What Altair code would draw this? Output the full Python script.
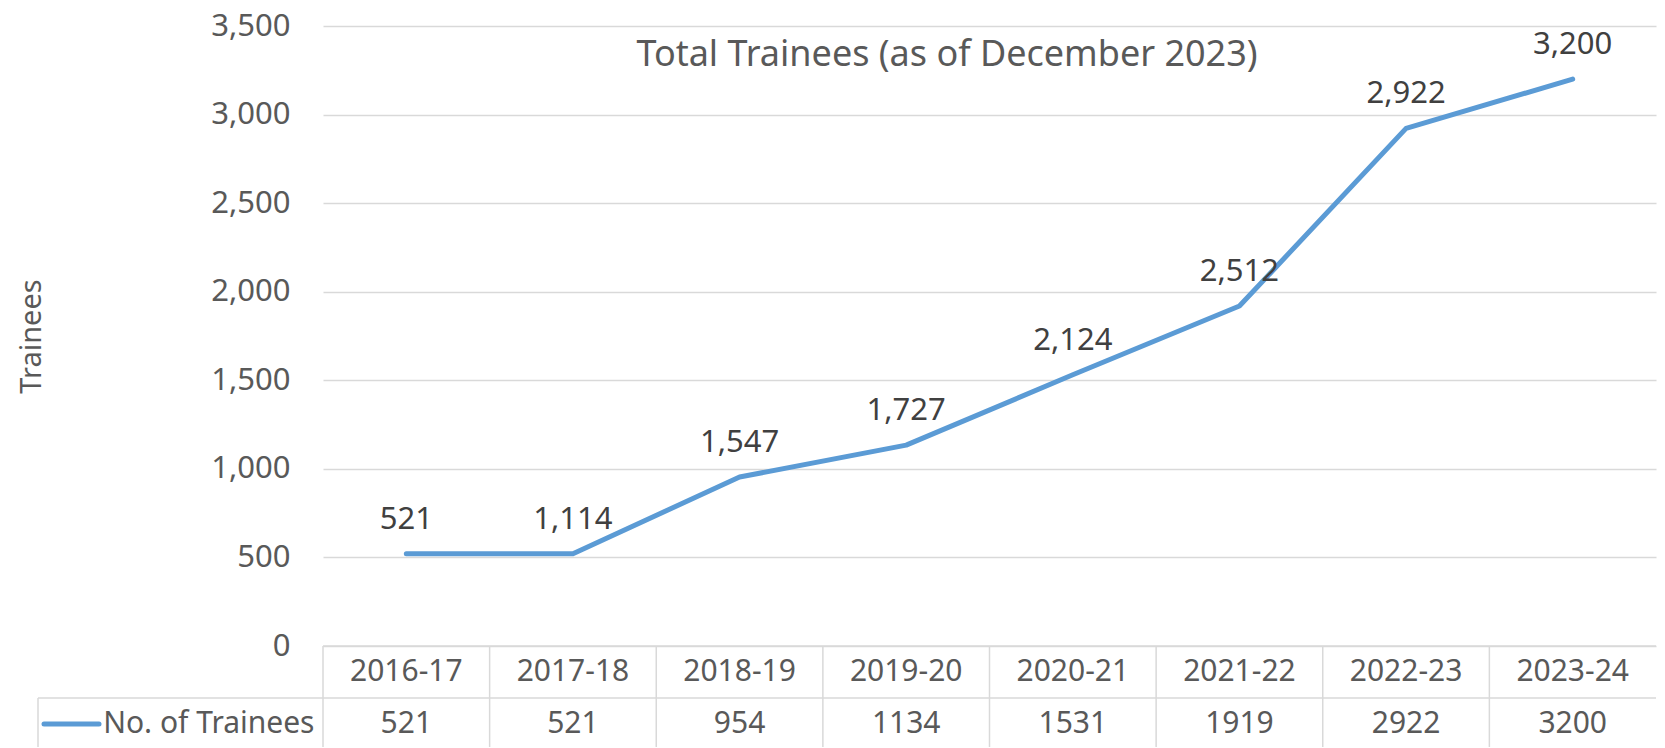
import altair as alt
import pandas as pd

# ---- data ----
years = ["2016-17", "2017-18", "2018-19", "2019-20", "2020-21", "2021-22", "2022-23", "2023-24"]
trainees = [521, 521, 954, 1134, 1531, 1919, 2922, 3200]
point_labels = ["521", "1,114", "1,547", "1,727", "2,124", "2,512", "2,922", "3,200"]
series_name = "No. of Trainees"
header_row = "Year"
y_ticks = [0, 500, 1000, 1500, 2000, 2500, 3000, 3500]
chart_title = "Total Trainees (as of December 2023)"
y_title = "Trainees"

# ---- style ----
FONT = "Noto Sans"
FS = 29
W = 1333
H = 620
TH = 104
BLUE = "#5B9BD5"
GRID = "#D9D9D9"
TXT = "#595959"
LBL = "#404040"

df = pd.DataFrame({"year": years, "value": trainees, "label": point_labels})

x_top = alt.X("year:N", sort=years, scale=alt.Scale(type="point", padding=0.5), axis=None)
y_top = alt.Y(
    "value:Q",
    scale=alt.Scale(domain=[0, 3500], nice=False),
    axis=alt.Axis(
        values=y_ticks, format=",.0f", grid=True, gridColor=GRID, gridWidth=1.5,
        domain=False, ticks=False,
        labelFont=FONT, labelFontSize=31, labelColor=TXT, labelPadding=33,
        title=y_title, titleFont=FONT, titleFontSize=FS, titleFontWeight="normal",
        titleColor=TXT, titleX=-292, titleY=H / 2, titleBaseline="middle", titleAlign="center",
    ),
)

line = alt.Chart(df).mark_line(
    color=BLUE, strokeWidth=5, strokeCap="round", strokeJoin="round"
).encode(x=x_top, y=y_top)

labels = alt.Chart(df).mark_text(
    baseline="alphabetic", dy=-25, font=FONT, fontSize=31, color=LBL
).encode(x=x_top, y="value:Q", text="label:N")

title_df = pd.DataFrame({"t": [chart_title]})
title_text = alt.Chart(title_df).mark_text(
    font=FONT, fontSize=36, color=TXT, baseline="middle", align="center"
).encode(x=alt.value(624), y=alt.value(29), text="t:N")

top = alt.layer(line, labels, title_text).properties(width=W, height=H)

# ---- data table ----
tab_rows = []
for yr, v in zip(years, trainees):
    tab_rows.append({"year": yr, "row": header_row, "text": yr})
    tab_rows.append({"year": yr, "row": series_name, "text": str(v)})
tab = pd.DataFrame(tab_rows)

band = alt.Scale(type="band", paddingInner=0, paddingOuter=0)
x_tab = alt.X("year:N", sort=years, scale=band, axis=None)
y_tab = alt.Y(
    "row:N", sort=[header_row, series_name],
    scale=alt.Scale(type="band", paddingInner=0, paddingOuter=0),
    axis=alt.Axis(
        domain=False, ticks=False, title=None,
        labelFont=FONT, labelFontSize=30, labelColor=TXT, labelPadding=9, labelLimit=0,
        labelExpr="datum.value == '%s' ? '' : datum.value" % header_row,
    ),
)

cells = alt.Chart(tab).mark_text(
    font=FONT, fontSize=30, color=TXT, baseline="middle", align="center"
).encode(x=x_tab, y=y_tab, text="text:N")

years_df = pd.DataFrame({"year": years})
vlines = alt.Chart(years_df).mark_rule(color=GRID, strokeWidth=1.5).encode(
    x=alt.X("year:N", sort=years, scale=band, axis=None, bandPosition=0),
    y=alt.value(0), y2=alt.value(TH),
)

one = pd.DataFrame({"k": [0]})
top_line = alt.Chart(one).mark_rule(color=GRID, strokeWidth=1.5).encode(
    x=alt.value(0), x2=alt.value(W), y=alt.value(0))
mid_line = alt.Chart(one).mark_rule(color=GRID, strokeWidth=1.5).encode(
    x=alt.value(-285), x2=alt.value(W), y=alt.value(TH / 2))
left_line = alt.Chart(one).mark_rule(color=GRID, strokeWidth=1.5).encode(
    x=alt.value(-285), y=alt.value(TH / 2), y2=alt.value(TH))
swatch = alt.Chart(one).mark_rule(color=BLUE, strokeWidth=5, strokeCap="round").encode(
    x=alt.value(-279), x2=alt.value(-224), y=alt.value(TH * 3 / 4))

table = alt.layer(vlines, top_line, mid_line, left_line, swatch, cells).properties(width=W, height=TH)

chart = alt.vconcat(top, table, spacing=0, bounds="flush").properties(
    padding={"left": 9, "top": 2, "right": 0, "bottom": -4},
    background="white",
).configure_view(strokeWidth=0)

chart.save("out.html", embed_options={"renderer": "svg", "actions": False})
